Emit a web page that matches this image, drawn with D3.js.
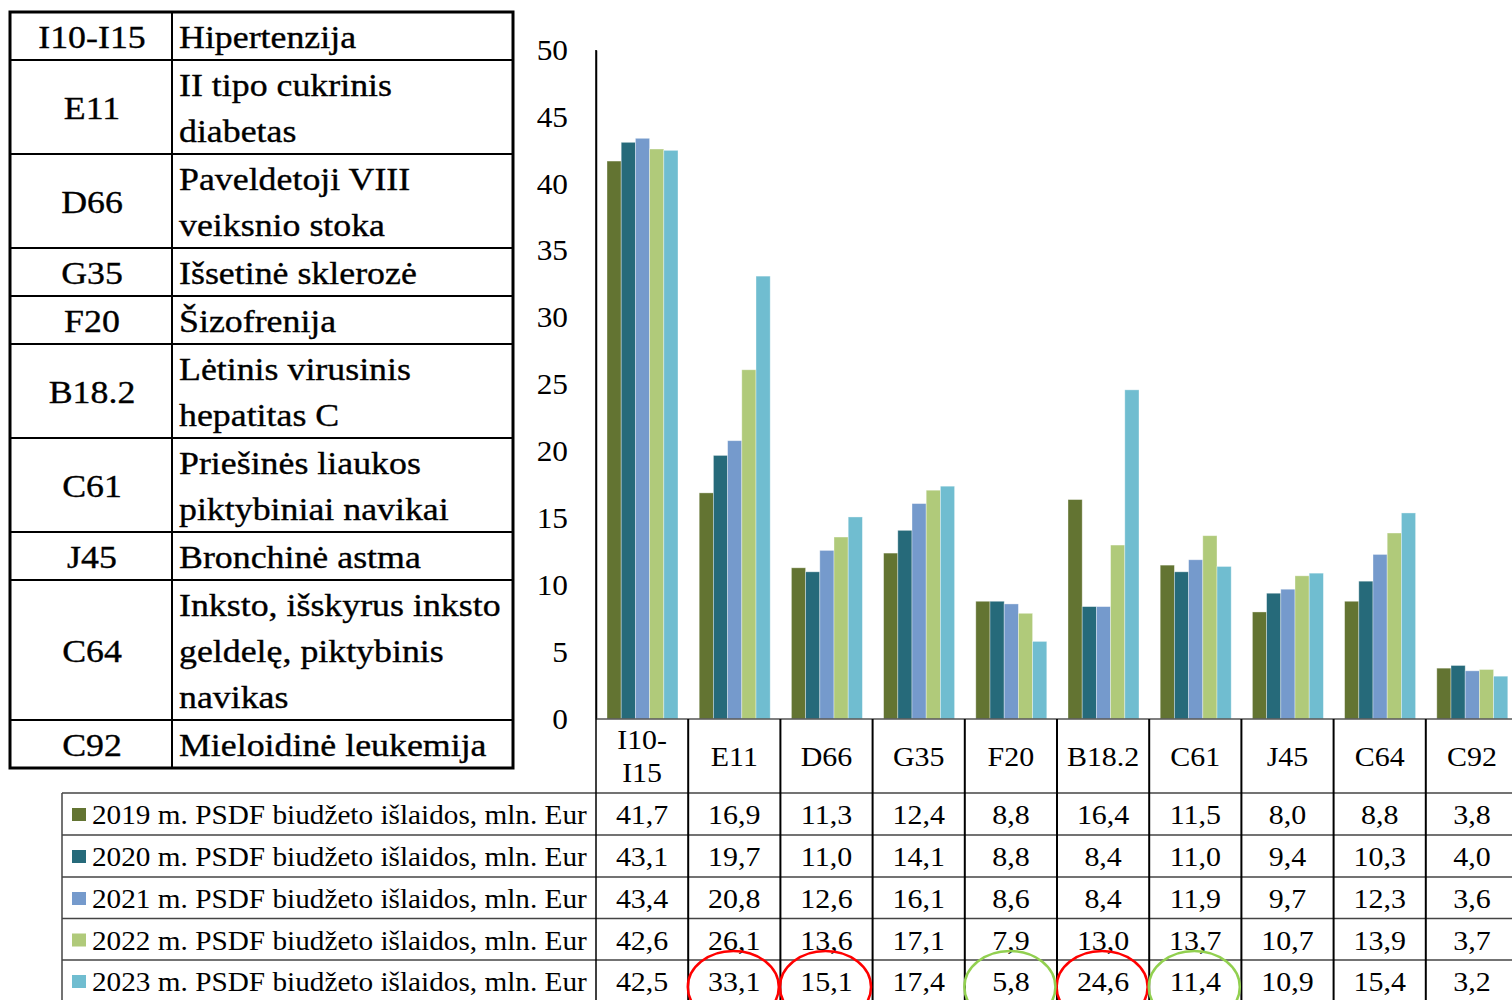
<!DOCTYPE html>
<html>
<head>
<meta charset="utf-8">
<script src="https://cdn.jsdelivr.net/npm/d3@7"></script>
<style>
  html, body { margin: 0; padding: 0; background: #fff; }
  svg { display: block; }
  text { font-family: "Liberation Serif", "Times New Roman", serif; fill: #000; }
</style>
</head>
<body>
<svg id="chart" width="1512" height="1000"></svg>
<script>
// ---------- DATA ----------
const categories = ["I10-I15", "E11", "D66", "G35", "F20", "B18.2", "C61", "J45", "C64", "C92"];
const categoryLabels = [["I10-", "I15"], ["E11"], ["D66"], ["G35"], ["F20"], ["B18.2"], ["C61"], ["J45"], ["C64"], ["C92"]];
const seriesNames = [
  "2019 m. PSDF biudžeto išlaidos, mln. Eur",
  "2020 m. PSDF biudžeto išlaidos, mln. Eur",
  "2021 m. PSDF biudžeto išlaidos, mln. Eur",
  "2022 m. PSDF biudžeto išlaidos, mln. Eur",
  "2023 m. PSDF biudžeto išlaidos, mln. Eur"
];
const v2019 = [41.7, 16.9, 11.3, 12.4, 8.8, 16.4, 11.5, 8.0, 8.8, 3.8];
const v2020 = [43.1, 19.7, 11.0, 14.1, 8.8, 8.4, 11.0, 9.4, 10.3, 4.0];
const v2021 = [43.4, 20.8, 12.6, 16.1, 8.6, 8.4, 11.9, 9.7, 12.3, 3.6];
const v2022 = [42.6, 26.1, 13.6, 17.1, 7.9, 13.0, 13.7, 10.7, 13.9, 3.7];
const v2023 = [42.5, 33.1, 15.1, 17.4, 5.8, 24.6, 11.4, 10.9, 15.4, 3.2];
const yTicks = [0, 5, 10, 15, 20, 25, 30, 35, 40, 45, 50];
const seriesColors = ["#637432", "#266A7A", "#759ACC", "#B0CA7A", "#70BDD0"];

// Highlighted 2023 values (ellipses)
const redHighlights = ["E11", "D66", "B18.2"];
const greenHighlights = ["F20", "C61"];

// Code explanation table
const codeRows = [
  ["I10-I15", ["Hipertenzija"]],
  ["E11", ["II tipo cukrinis", "diabetas"]],
  ["D66", ["Paveldetoji VIII", "veiksnio stoka"]],
  ["G35", ["Išsetinė sklerozė"]],
  ["F20", ["Šizofrenija"]],
  ["B18.2", ["Lėtinis virusinis", "hepatitas C"]],
  ["C61", ["Priešinės liaukos", "piktybiniai navikai"]],
  ["J45", ["Bronchinė astma"]],
  ["C64", ["Inksto, išskyrus inksto", "geldelę, piktybinis", "navikas"]],
  ["C92", ["Mieloidinė leukemija"]]
];

const seriesValues = [v2019, v2020, v2021, v2022, v2023];

// ---------- HELPERS ----------
function addText(g, px, py, str, size, sx, anchor, bold) {
  const t = g.append("text")
    .attr("transform", `translate(${px},${py}) scale(${sx},1)`)
    .attr("text-anchor", anchor || "start")
    .style("font-size", size + "px")
    .text(str);
  if (bold) t.attr("stroke", "#000").attr("stroke-width", 0.35);
  return t;
}

// ---------- LAYOUT ----------
const svg = d3.select("#chart");
const x0 = 596, yTop = 50, yBase = 719;
const catW = 92.2;
const x = d3.scaleBand().domain(categories).range([x0, x0 + catW * categories.length]);
const xs = d3.scaleBand().domain(d3.range(seriesNames.length)).range([11, 82]);
const y = d3.scaleLinear().domain([0, 50]).range([yBase, yTop]);

// ---------- LEFT CODE TABLE ----------
const tL = 10, tR = 513, tMid = 172, tTop = 12, lineH = 46;
const ct = svg.append("g");
let cy = tTop;
const rowTops = [];
codeRows.forEach(r => {
  const h = lineH * r[1].length + 2;
  rowTops.push([cy, h]);
  cy += h;
});
const tBottom = cy;
codeRows.forEach((r, i) => {
  const [top, h] = rowTops[i];
  addText(ct, (tL + tMid) / 2 + 1, top + h / 2 + 12, r[0], 32, 1.12, "middle", true);
  r[1].forEach((ln, j) => {
    addText(ct, tMid + 7, top + 36 + j * lineH, ln, 32, 1.12, "start", true);
  });
  if (i > 0) {
    ct.append("line").attr("x1", tL).attr("x2", tR).attr("y1", top).attr("y2", top)
      .attr("stroke", "#000").attr("stroke-width", 2);
  }
});
ct.append("line").attr("x1", tMid).attr("x2", tMid).attr("y1", tTop).attr("y2", tBottom)
  .attr("stroke", "#000").attr("stroke-width", 2);
ct.append("rect").attr("x", tL).attr("y", tTop).attr("width", tR - tL).attr("height", tBottom - tTop)
  .attr("fill", "none").attr("stroke", "#000").attr("stroke-width", 3);

// ---------- Y AXIS ----------
const tickSx = 1.08;
const yAxis = d3.axisLeft(y).tickValues(yTicks).tickSize(0).tickPadding(28).tickFormat(d3.format("d"));
const ya = svg.append("g").attr("transform", `translate(${x0},0)`).call(yAxis);
ya.select(".domain").attr("stroke", "#000").attr("stroke-width", 1.5);
ya.selectAll(".tick text")
  .style("font-size", "29px")
  .style("font-family", '"Liberation Serif", "Times New Roman", serif')
  .attr("fill", "#000")
  .attr("x", -28 / tickSx)
  .attr("transform", `scale(${tickSx},1)`);

// ---------- BARS ----------
const bars = svg.append("g");
seriesValues.forEach((vals, si) => {
  bars.selectAll(null).data(vals.map((v, ci) => ({ v, c: categories[ci] })))
    .enter().append("rect")
    .attr("x", d => x(d.c) + xs(si))
    .attr("y", d => y(d.v))
    .attr("width", xs.bandwidth())
    .attr("height", d => yBase - y(d.v))
    .attr("fill", seriesColors[si])
    .attr("stroke", "rgba(255,255,255,0.45)")
    .attr("stroke-width", 0.8);
});

// ---------- DATA TABLE ----------
const rowY = [793, 835, 877, 918.5, 960, 1002];
const legL = 62;
const tb = svg.append("g");
const valSx = 1.07;
// header labels
categories.forEach((c, ci) => {
  const lbl = categoryLabels[ci];
  const cx = x(c) + x.bandwidth() / 2;
  if (lbl.length === 1) {
    addText(tb, cx, 766, lbl[0], 28, valSx, "middle");
  } else {
    lbl.forEach((t, j) => addText(tb, cx, 749 + j * 33, t, 28, valSx, "middle"));
  }
});
// values + legend
seriesValues.forEach((vals, si) => {
  vals.forEach((v, ci) => {
    addText(tb, x(categories[ci]) + x.bandwidth() / 2, rowY[si] + 31,
      d3.format(".1f")(v).replace(".", ","), 28, valSx, "middle");
  });
  tb.append("rect").attr("x", 72).attr("y", rowY[si] + 15).attr("width", 14).attr("height", 13)
    .attr("fill", seriesColors[si]);
  addText(tb, 92, rowY[si] + 31, seriesNames[si], 28, 1.045, "start");
});
// horizontal lines
rowY.slice(0, 5).forEach(ry => {
  tb.append("line").attr("x1", legL).attr("x2", 1512).attr("y1", ry).attr("y2", ry)
    .attr("stroke", "#444").attr("stroke-width", 1.5);
});
// x axis line
tb.append("line").attr("x1", x0).attr("x2", 1512).attr("y1", yBase).attr("y2", yBase)
  .attr("stroke", "#555").attr("stroke-width", 1.5);
// vertical lines
tb.append("line").attr("x1", legL).attr("x2", legL).attr("y1", rowY[0]).attr("y2", 1000)
  .attr("stroke", "#444").attr("stroke-width", 1.5);
categories.forEach((c, ci) => {
  const vx = x(c);
  tb.append("line").attr("x1", vx).attr("x2", vx).attr("y1", ci === 0 ? yTop : yBase).attr("y2", 1000)
    .attr("stroke", "#000").attr("stroke-width", ci === 0 ? 1.5 : 2);
});

// ---------- HIGHLIGHT ELLIPSES ----------
const hl = svg.append("g");
redHighlights.forEach(c => {
  hl.append("ellipse").attr("cx", x(c) + x.bandwidth() / 2 - 1).attr("cy", 987)
    .attr("rx", 45.5).attr("ry", 36).attr("fill", "none").attr("stroke", "#FF0000").attr("stroke-width", 2.5);
});
greenHighlights.forEach(c => {
  hl.append("ellipse").attr("cx", x(c) + x.bandwidth() / 2 - 1).attr("cy", 987)
    .attr("rx", 45.5).attr("ry", 36).attr("fill", "none").attr("stroke", "#92D050").attr("stroke-width", 2.5);
});
</script>
</body>
</html>
